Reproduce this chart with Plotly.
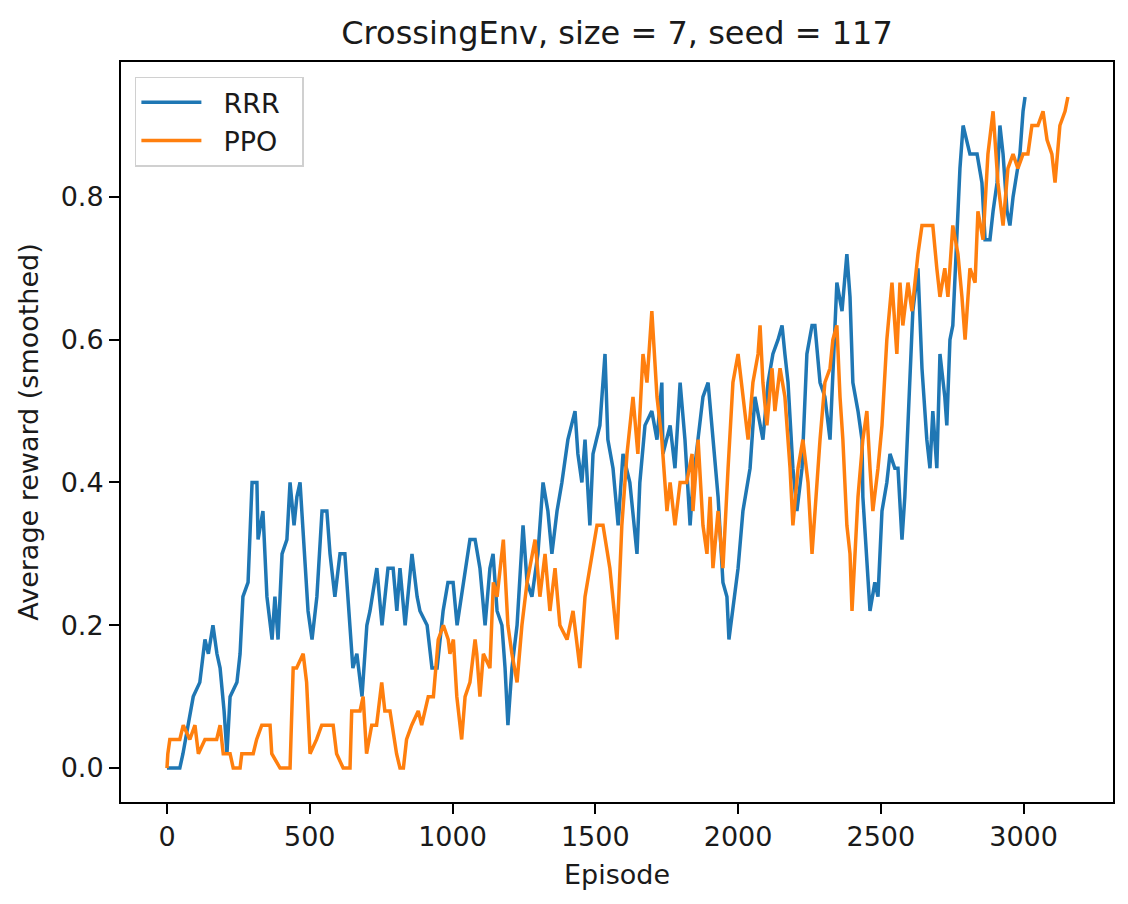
#!/usr/bin/env python3
"""Smoothed reward curves of RRR and PPO on CrossingEnv (size 7, seed 117)."""

from __future__ import annotations

import plotly.graph_objects as go

TITLE = "CrossingEnv, size = 7, seed = 117"
X_TITLE = "Episode"
Y_TITLE = "Average reward (smoothed)"

X_TICKS = [0, 500, 1000, 1500, 2000, 2500, 3000]
Y_TICKS = [0.0, 0.2, 0.4, 0.6, 0.8]

# values (episode, smoothed reward)
RRR_EPISODE = [
    0, 45, 56, 75, 92, 115, 133, 145, 161, 175, 186, 200, 210, 221, 245, 256, 266, 284,
    298, 315, 319, 336, 350, 368, 378, 389, 403, 420, 431, 445, 455, 466, 476, 494, 508,
    525, 543, 560, 571, 588, 606, 623, 630, 651, 665, 683, 700, 711, 735, 753, 774, 792,
    805, 816, 834, 858, 876, 886, 911, 928, 946, 967, 984, 1002, 1016, 1037, 1061, 1079,
    1096, 1114, 1131, 1142, 1156, 1173, 1184, 1194, 1208, 1226, 1247, 1261, 1278, 1299,
    1317, 1334, 1348, 1366, 1383, 1404, 1429, 1439, 1453, 1464, 1481, 1492, 1516, 1534,
    1544, 1562, 1580, 1597, 1621, 1646, 1656, 1674, 1698, 1716, 1733, 1737, 1762, 1779,
    1797, 1814, 1832, 1842, 1860, 1877, 1895, 1912, 1930, 1947, 1961, 1968, 1982, 2000,
    2017, 2042, 2059, 2077, 2087, 2105, 2122, 2140, 2154, 2164, 2175, 2192, 2206, 2224,
    2241, 2259, 2269, 2287, 2304, 2322, 2332, 2346, 2364, 2381, 2392, 2402, 2420, 2434,
    2437, 2451, 2462, 2479, 2490, 2504, 2521, 2532, 2549, 2560, 2574, 2584, 2602, 2612,
    2630, 2644, 2661, 2672, 2682, 2696, 2707, 2724, 2731, 2742, 2752, 2763, 2770, 2777,
    2788, 2801, 2812, 2837, 2854, 2865, 2882, 2893, 2907, 2917, 2928, 2942, 2952, 2963,
    2977, 2987, 2998, 3005,
]
RRR_REWARD = [
    0.00, 0.00, 0.02, 0.06, 0.10, 0.12, 0.18, 0.16, 0.20, 0.16, 0.14, 0.08, 0.02, 0.10, 0.12, 0.16, 0.24, 0.26,
    0.40, 0.40, 0.32, 0.36, 0.24, 0.18, 0.24, 0.18, 0.30, 0.32, 0.40, 0.34, 0.38, 0.40, 0.34, 0.22, 0.18,
    0.24, 0.36, 0.36, 0.30, 0.24, 0.30, 0.30, 0.26, 0.14, 0.16, 0.10, 0.20, 0.22, 0.28, 0.20, 0.28, 0.28,
    0.22, 0.28, 0.20, 0.30, 0.24, 0.22, 0.20, 0.14, 0.14, 0.22, 0.26, 0.26, 0.20, 0.26, 0.32, 0.32,
    0.28, 0.20, 0.28, 0.30, 0.22, 0.20, 0.14, 0.06, 0.14, 0.20, 0.34, 0.26, 0.24, 0.30,
    0.40, 0.36, 0.30, 0.36, 0.40, 0.46, 0.50, 0.44, 0.40, 0.46, 0.34, 0.44, 0.48, 0.58,
    0.46, 0.42, 0.34, 0.44, 0.40, 0.30, 0.40, 0.48, 0.50, 0.46, 0.54, 0.44, 0.48, 0.42,
    0.54, 0.46, 0.34, 0.40, 0.46, 0.52, 0.54, 0.46, 0.38, 0.26, 0.24, 0.18, 0.22, 0.28,
    0.36, 0.42, 0.52, 0.48, 0.46, 0.54, 0.58, 0.60, 0.62, 0.58, 0.54, 0.42, 0.36, 0.42,
    0.58, 0.62, 0.62, 0.54, 0.52, 0.46, 0.56, 0.68, 0.64, 0.72, 0.66, 0.54, 0.50, 0.46,
    0.38, 0.30, 0.22, 0.26, 0.24, 0.36, 0.40, 0.44, 0.42, 0.42, 0.32, 0.38, 0.54, 0.64,
    0.70, 0.56, 0.46, 0.42, 0.50, 0.42, 0.58, 0.52, 0.48, 0.60, 0.62, 0.72, 0.80, 0.84,
    0.90, 0.88, 0.86, 0.86, 0.82, 0.74, 0.74, 0.78, 0.82, 0.90, 0.86, 0.78, 0.76, 0.80,
    0.84, 0.86, 0.92, 0.94,
]

PPO_EPISODE = [
    0, 3, 10, 45, 57, 80, 98, 110, 133, 174, 186, 197, 221, 232, 256, 262, 302, 314, 332,
    361, 367, 396, 431, 442, 454, 477, 489, 501, 524, 542, 571, 582, 594, 617, 641, 647,
    676, 687, 699, 717, 734, 752, 763, 781, 804, 816, 828, 839, 857, 880, 892, 915, 933,
    950, 968, 985, 991, 1003, 1015, 1032, 1044, 1061, 1079, 1085, 1096, 1108, 1131, 1143,
    1156, 1178, 1194, 1208, 1226, 1243, 1261, 1289, 1306, 1324, 1341, 1359, 1376, 1401,
    1422, 1446, 1464, 1488, 1506, 1527, 1551, 1576, 1593, 1611, 1632, 1649, 1667, 1681,
    1698, 1716, 1733, 1751, 1762, 1779, 1797, 1820, 1839, 1842, 1860, 1877, 1891, 1902,
    1912, 1930, 1947, 1965, 1982, 2000, 2017, 2035, 2052, 2070, 2077, 2087, 2101, 2119,
    2129, 2147, 2164, 2182, 2192, 2210, 2227, 2245, 2259, 2269, 2287, 2304, 2322, 2332,
    2346, 2357, 2367, 2381, 2392, 2399, 2409, 2420, 2437, 2451, 2462, 2472, 2490, 2504,
    2521, 2539, 2556, 2567, 2577, 2595, 2609, 2619, 2630, 2644, 2682, 2696, 2707, 2724,
    2735, 2752, 2770, 2784, 2795, 2812, 2830, 2840, 2858, 2875, 2893, 2910, 2928, 2945,
    2963, 2980, 2998, 3015, 3029, 3050, 3068, 3082, 3099, 3110, 3127, 3145, 3155,
]
PPO_REWARD = [
    0.00, 0.02, 0.04, 0.04, 0.06, 0.04, 0.06, 0.02, 0.04, 0.04, 0.06, 0.02, 0.02, 0.00, 0.00, 0.02, 0.02, 0.04, 0.06,
    0.06, 0.02, 0.00, 0.00, 0.14, 0.14, 0.16, 0.12, 0.02, 0.04, 0.06, 0.06, 0.06, 0.02, 0.00, 0.00, 0.08,
    0.08, 0.10, 0.02, 0.06, 0.06, 0.12, 0.08, 0.08, 0.02, 0.00, 0.00, 0.04, 0.06, 0.08, 0.06, 0.10, 0.10,
    0.18, 0.20, 0.18, 0.16, 0.18, 0.10, 0.04, 0.10, 0.12, 0.18, 0.16, 0.10, 0.16, 0.14, 0.26,
    0.24, 0.32, 0.20, 0.16, 0.12, 0.20, 0.26, 0.32, 0.24, 0.30, 0.22, 0.28, 0.20, 0.18,
    0.22, 0.14, 0.24, 0.30, 0.34, 0.34, 0.28, 0.18, 0.34, 0.44, 0.52, 0.44, 0.58, 0.54,
    0.64, 0.52, 0.46, 0.36, 0.40, 0.34, 0.40, 0.40, 0.44, 0.36, 0.46, 0.34, 0.30, 0.38,
    0.28, 0.36, 0.28, 0.42, 0.54, 0.58, 0.52, 0.46, 0.54, 0.58, 0.62, 0.54, 0.48, 0.56,
    0.50, 0.56, 0.52, 0.42, 0.34, 0.42, 0.46, 0.40, 0.30, 0.36, 0.46, 0.54, 0.56, 0.60,
    0.62, 0.52, 0.46, 0.34, 0.30, 0.22, 0.30, 0.38, 0.46, 0.50, 0.42, 0.36, 0.42, 0.48,
    0.60, 0.68, 0.58, 0.68, 0.62, 0.68, 0.64, 0.68, 0.72, 0.76, 0.76, 0.70, 0.66, 0.70,
    0.66, 0.76, 0.72, 0.66, 0.60, 0.70, 0.68, 0.78, 0.74, 0.86, 0.92, 0.82, 0.76, 0.84,
    0.86, 0.84, 0.86, 0.86, 0.90, 0.90, 0.92, 0.88, 0.86, 0.82, 0.90, 0.92, 0.94,
]

SERIES = [
    ("RRR", RRR_EPISODE, RRR_REWARD, "#1f77b4"),
    ("PPO", PPO_EPISODE, PPO_REWARD, "#ff7f0e"),
]

FONT = "DejaVu Sans"
TEXT_COLOR = "#1a1a1a"
# matplotlib leaves a wider gap between the legend handle and its label
LEGEND_GAP = "\u00a0\u00a0"


def build_figure() -> go.Figure:
    fig = go.Figure()
    for name, xs, ys, color in SERIES:
        fig.add_trace(
            go.Scatter(
                x=xs,
                y=ys,
                mode="lines",
                name=LEGEND_GAP + name + LEGEND_GAP,
                line={"color": color, "width": 3.5},
            )
        )

    axis_common = dict(
        showline=True,
        linecolor="black",
        linewidth=2,
        mirror=True,
        ticks="outside",
        ticklen=10,
        tickwidth=2,
        tickcolor="black",
        showgrid=False,
        zeroline=False,
        automargin=False,
        tickfont={"size": 27, "color": TEXT_COLOR},
    )
    fig.update_xaxes(
        range=[-161, 3313],
        tickvals=X_TICKS,
        title={"text": X_TITLE, "font": {"size": 27, "color": TEXT_COLOR}, "standoff": 14},
        **axis_common,
    )
    fig.update_yaxes(
        range=[-0.0476, 0.989],
        tickvals=Y_TICKS,
        tickformat=".1f",
        title={"text": Y_TITLE, "font": {"size": 27, "color": TEXT_COLOR}, "standoff": 14},
        **axis_common,
    )
    # the page body adds an 8px offset, so margins are trimmed by that much on the top/left
    fig.update_layout(
        width=1128,
        height=904,
        margin={"l": 113, "r": 23, "t": 54, "b": 110},
        paper_bgcolor="white",
        plot_bgcolor="white",
        font={"family": FONT, "color": TEXT_COLOR},
        title={
            "text": TITLE,
            "font": {"size": 32, "color": TEXT_COLOR},
            "x": 0.5,
            "xref": "paper",
            "xanchor": "center",
            "y": 1 - 25 / 904,
            "yref": "container",
            "yanchor": "middle",
        },
        showlegend=True,
        legend={
            "x": 0.014,
            "y": 0.98,
            "xanchor": "left",
            "yanchor": "top",
            "bgcolor": "rgba(255,255,255,0.8)",
            "bordercolor": "#d0d0d0",
            "borderwidth": 1.5,
            "itemwidth": 60,
            "font": {"size": 27, "color": TEXT_COLOR},
        },
    )
    return fig


def main() -> int:
    fig = build_figure()
    fig.write_html("out.html")
    return 0


if __name__ == "__main__":
    raise SystemExit(main())
